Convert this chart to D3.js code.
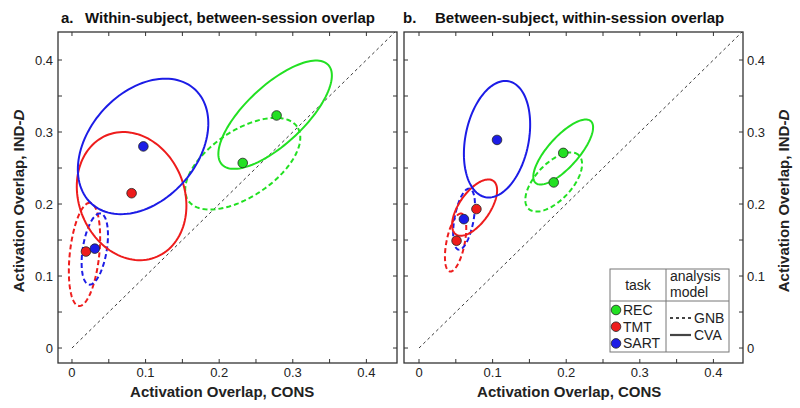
<!DOCTYPE html>
<html><head><meta charset="utf-8">
<script src="https://cdn.jsdelivr.net/npm/d3@7"></script>
<style>
body{margin:0;background:#fff;}
svg{display:block;font-family:"Liberation Sans",Arial,sans-serif;}
</style></head>
<body>
<svg id="c" width="800" height="408"></svg>
<script>
// ---------- data ----------
const tasks = ["REC", "TMT", "SART"];
const models = ["GNB", "CVA"];
const tickValues = [0, 0.1, 0.2, 0.3, 0.4];
const tickLabels = ["0", "0.1", "0.2", "0.3", "0.4"];
const minorTicks = [0, 0.05, 0.1, 0.15, 0.2, 0.25, 0.3, 0.35, 0.4];

// panel a: within-subject, between-session (order REC, TMT, SART)
const aGNB_x = [0.232, 0.019, 0.031];
const aGNB_y = [0.257, 0.134, 0.138];
const aCVA_x = [0.278, 0.081, 0.097];
const aCVA_y = [0.323, 0.215, 0.280];
// ellipses: [centre x, centre y, semi-major, semi-minor, angle deg]
const aGNB_ell = [[0.232, 0.256, 0.090, 0.0455, 35], [0.017, 0.130, 0.072, 0.020, 84], [0.031, 0.1375, 0.050, 0.0163, 81]];
const aCVA_ell = [[0.276, 0.324, 0.100, 0.040, 44], [0.081, 0.211, 0.091, 0.072, 110], [0.0966, 0.280, 0.106, 0.074, 50]];

// panel b: between-subject, within-session
const bGNB_x = [0.183, 0.051, 0.061];
const bGNB_y = [0.230, 0.149, 0.179];
const bCVA_x = [0.196, 0.078, 0.106];
const bCVA_y = [0.271, 0.193, 0.289];
const bGNB_ell = [[0.183, 0.2306, 0.0505, 0.025, 48], [0.0497, 0.1465, 0.041, 0.0124, 79], [0.0612, 0.179, 0.043, 0.013, 80]];
const bCVA_ell = [[0.1959, 0.2722, 0.057, 0.021, 49], [0.0755, 0.195, 0.045, 0.021, 56], [0.106, 0.290, 0.082, 0.043, 79]];

// ---------- styles ----------
const taskColor = {REC: "#22e022", TMT: "#ee1c1c", SART: "#1c1ce6"};
const modelDash = {GNB: "5,3", CVA: null};

const svg = d3.select("#c");
const yScale = d3.scaleLinear().domain([-0.0208, 0.4389]).range([363, 32]);

const panels = [
  {id: "a", letter: "a.", title: "Within-subject, between-session overlap", titleX: 85, letterX: 61,
   x: d3.scaleLinear().domain([-0.019, 0.4416]).range([58, 397]), side: "left",
   pts: {GNB: [aGNB_x, aGNB_y], CVA: [aCVA_x, aCVA_y]}, ell: {GNB: aGNB_ell, CVA: aCVA_ell}},
  {id: "b", letter: "b.", title: "Between-subject, within-session overlap", titleX: 435, letterX: 403,
   x: d3.scaleLinear().domain([-0.0204, 0.4402]).range([404, 743]), side: "right",
   pts: {GNB: [bGNB_x, bGNB_y], CVA: [bCVA_x, bCVA_y]}, ell: {GNB: bGNB_ell, CVA: bCVA_ell}}
];

const line = d3.line();

function ellipsePts(e, xs) {
  const [cx, cy, a, b, ang] = e;
  const th = ang * Math.PI / 180;
  return d3.range(0, 361, 3).map(d => {
    const t = d * Math.PI / 180;
    const dx = a * Math.cos(t) * Math.cos(th) - b * Math.sin(t) * Math.sin(th);
    const dy = a * Math.cos(t) * Math.sin(th) + b * Math.sin(t) * Math.cos(th);
    return [xs(cx + dx), yScale(cy + dy)];
  });
}

panels.forEach(p => {
  const xs = p.x;
  const [x0, x1] = xs.range();
  const [y1, y0] = yScale.range();
  const g = svg.append("g");
  svg.append("clipPath").attr("id", "clip" + p.id).append("rect")
    .attr("x", x0).attr("y", y0).attr("width", x1 - x0).attr("height", y1 - y0);
  const plot = g.append("g").attr("clip-path", `url(#clip${p.id})`);

  // diagonal
  plot.append("path")
    .attr("d", line([[xs(0), yScale(0)], [xs(0.45), yScale(0.45)]]))
    .attr("stroke", "#222").attr("stroke-width", 0.9).attr("stroke-dasharray", "3,3").attr("fill", "none");

  // ellipses
  models.forEach(m => {
    p.ell[m].forEach((e, i) => {
      plot.append("path").attr("d", line(ellipsePts(e, xs)) + "Z")
        .attr("fill", "none").attr("stroke", taskColor[tasks[i]]).attr("stroke-width", 2)
        .attr("stroke-dasharray", modelDash[m]);
    });
  });
  // points
  models.forEach(m => {
    const [px, py] = p.pts[m];
    tasks.forEach((t, i) => {
      plot.append("circle").attr("cx", xs(px[i])).attr("cy", yScale(py[i])).attr("r", 4.8)
        .attr("fill", taskColor[t]).attr("stroke", "#222").attr("stroke-width", 0.8);
    });
  });

  // frame
  g.append("rect").attr("x", x0).attr("y", y0).attr("width", x1 - x0).attr("height", y1 - y0)
    .attr("fill", "none").attr("stroke", "#333").attr("stroke-width", 1.3);
  // ticks (inward, all sides)
  const tl = 4;
  minorTicks.forEach(v => {
    const X = xs(v), Y = yScale(v);
    g.append("line").attr("x1", X).attr("x2", X).attr("y1", y1).attr("y2", y1 - tl).attr("stroke", "#333");
    g.append("line").attr("x1", X).attr("x2", X).attr("y1", y0).attr("y2", y0 + tl).attr("stroke", "#333");
    g.append("line").attr("x1", x0).attr("x2", x0 + tl).attr("y1", Y).attr("y2", Y).attr("stroke", "#333");
    g.append("line").attr("x1", x1).attr("x2", x1 - tl).attr("y1", Y).attr("y2", Y).attr("stroke", "#333");
  });
  // tick labels
  tickValues.forEach((v, i) => {
    g.append("text").attr("x", xs(v)).attr("y", 377).attr("text-anchor", "middle")
      .attr("font-size", 13).attr("fill", "#222").text(tickLabels[i]);
    if (p.side === "left") {
      g.append("text").attr("x", 53).attr("y", yScale(v)).attr("dy", "0.35em").attr("text-anchor", "end")
        .attr("font-size", 13).attr("fill", "#222").text(tickLabels[i]);
    } else {
      g.append("text").attr("x", 747).attr("y", yScale(v)).attr("dy", "0.35em").attr("text-anchor", "start")
        .attr("font-size", 13).attr("fill", "#222").text(tickLabels[i]);
    }
  });
  // axis titles
  g.append("text").attr("x", (xs(0) + xs(0.4)) / 2 + 3).attr("y", 397).attr("text-anchor", "middle")
    .attr("font-size", 15).attr("font-weight", "bold").attr("fill", "#222").text("Activation Overlap, CONS");
  const ylx = p.side === "left" ? 24 : 789;
  const yl = g.append("text").attr("transform", `translate(${ylx},201) rotate(-90)`).attr("text-anchor", "middle")
    .attr("font-size", 15).attr("font-weight", "bold").attr("fill", "#222");
  yl.append("tspan").text("Activation Overlap, IND-");
  yl.append("tspan").attr("font-style", "italic").text("D");
  // title
  g.append("text").attr("x", p.letterX).attr("y", 23).attr("font-size", 15).attr("font-weight", "bold")
    .attr("fill", "#111").text(p.letter);
  g.append("text").attr("x", p.titleX).attr("y", 23).attr("font-size", 15).attr("font-weight", "bold")
    .attr("fill", "#111").text(p.title);
});

// ---------- legend ----------
const lg = svg.append("g");
const L = {x: 610, y: 269, w: 119, h: 83, vx: 666, hy: 301};
lg.append("rect").attr("x", L.x).attr("y", L.y).attr("width", L.w).attr("height", L.h)
  .attr("fill", "#fff").attr("stroke", "#777").attr("stroke-width", 1);
lg.append("line").attr("x1", L.vx).attr("x2", L.vx).attr("y1", L.y).attr("y2", L.y + L.h).attr("stroke", "#777");
lg.append("line").attr("x1", L.x).attr("x2", L.x + L.w).attr("y1", L.hy).attr("y2", L.hy).attr("stroke", "#777");
lg.append("text").attr("x", (L.x + L.vx) / 2).attr("y", 290).attr("text-anchor", "middle").attr("font-size", 14).attr("fill", "#222").text("task");
lg.append("text").attr("x", 670).attr("y", 281).attr("font-size", 14).attr("fill", "#222").text("analysis");
lg.append("text").attr("x", 670).attr("y", 297).attr("font-size", 14).attr("fill", "#222").text("model");
tasks.forEach((t, i) => {
  const cy = 310 + i * 16.7;
  lg.append("circle").attr("cx", 616).attr("cy", cy).attr("r", 4.8).attr("fill", taskColor[t]).attr("stroke", "#222").attr("stroke-width", 0.8);
  lg.append("text").attr("x", 623).attr("y", cy + 5).attr("font-size", 14).attr("fill", "#222").text(t);
});
models.forEach((m, i) => {
  const cy = 318 + i * 17;
  lg.append("line").attr("x1", 670).attr("x2", 691).attr("y1", cy).attr("y2", cy)
    .attr("stroke", "#444").attr("stroke-width", 2.2).attr("stroke-dasharray", m === "GNB" ? "3,3" : null);
  lg.append("text").attr("x", 694).attr("y", cy + 5).attr("font-size", 14).attr("fill", "#222").text(m);
});
</script>
</body></html>
